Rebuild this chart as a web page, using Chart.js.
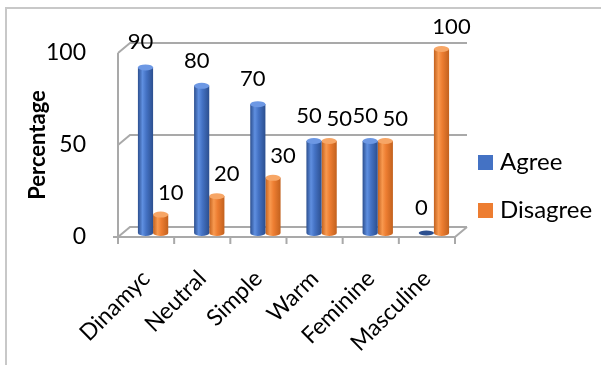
<!DOCTYPE html>
<html>
<head>
<meta charset="utf-8">
<script src="https://cdn.jsdelivr.net/npm/chart.js@4.4.1/dist/chart.umd.min.js"></script>
<style>
  html, body { margin: 0; padding: 0; background: #fff; }
  #wrap { position: relative; width: 601px; height: 365px; overflow: hidden; }
  #frame { position: absolute; left: 5px; top: 7px; right: -10px; bottom: -10px; border: 2px solid #c8c8c8; pointer-events: none; }
</style>
</head>
<body>
<div id="wrap">
  <canvas id="chart" width="601" height="365"></canvas>
  <div id="frame"></div>
</div>
<script>
const categories = ['Dinamyc', 'Neutral', 'Simple', 'Warm', 'Feminine', 'Masculine'];
const agreeValues = [90, 80, 70, 50, 50, 0];
const disagreeValues = [10, 20, 30, 50, 50, 100];
const seriesNames = ['Agree', 'Disagree'];
const yTickValues = [0, 50, 100];

const FONT = 'Lato, "Open Sans", sans-serif';
const BACK = { x: 12, y: -10 };   // depth of the back wall
const MID = { x: 7, y: -4 };      // where the bars stand
const gridColor = '#a9a9a9';

const palette = [
    { base: '#4472c4', dark: '#2c4f8f', light: '#5f8fe0', top: '#6d98e4', labelDx: -5, labelDy: -25 },
    { base: '#ed7d31', dark: '#c2611e', light: '#f8994f', top: '#f7a666', labelDx: 10, labelDy: -22 }
];

// back wall, floor and axis lines
const wallsPlugin = {
    id: 'walls',
    beforeDatasetsDraw(chart) {
        const { ctx, chartArea: a, scales: { y } } = chart;
        ctx.save();
        ctx.strokeStyle = gridColor;
        ctx.lineWidth = 2;
        ctx.beginPath();
        yTickValues.forEach(v => {
            const py = y.getPixelForValue(v);
            ctx.moveTo(a.left, py);
            ctx.lineTo(a.left + BACK.x, py + BACK.y);
            ctx.lineTo(a.right + BACK.x, py + BACK.y);
        });
        // left axis
        ctx.moveTo(a.left, y.getPixelForValue(100));
        ctx.lineTo(a.left, a.bottom);
        // floor front edge and right side
        ctx.moveTo(a.left - 5, a.bottom);
        ctx.lineTo(a.right, a.bottom);
        ctx.lineTo(a.right + BACK.x, a.bottom + BACK.y);
        // category tick marks
        const step = (a.right - a.left) / categories.length;
        for (let i = 0; i <= categories.length; i++) {
            const px = a.left + i * step;
            ctx.moveTo(px, a.bottom);
            ctx.lineTo(px, a.bottom + 7);
        }
        ctx.stroke();
        ctx.restore();
    }
};

function drawCylinder(ctx, cx, top, base, w, col) {
    const rx = w / 2, ry = 3;
    if (Math.abs(base - top) < 1) {
        ctx.fillStyle = col.dark;
        ctx.beginPath();
        ctx.ellipse(cx, base, rx, ry * 0.8, 0, 0, Math.PI * 2);
        ctx.fill();
        return;
    }
    const g = ctx.createLinearGradient(cx - rx, 0, cx + rx, 0);
    g.addColorStop(0, col.dark);
    g.addColorStop(0.3, col.light);
    g.addColorStop(0.55, col.base);
    g.addColorStop(1, col.dark);
    ctx.fillStyle = g;
    ctx.beginPath();
    ctx.moveTo(cx - rx, top);
    ctx.lineTo(cx - rx, base);
    ctx.ellipse(cx, base, rx, ry, 0, Math.PI, 0, true);
    ctx.lineTo(cx + rx, top);
    ctx.closePath();
    ctx.fill();
    ctx.fillStyle = col.top;
    ctx.beginPath();
    ctx.ellipse(cx, top, rx, ry, 0, 0, Math.PI * 2);
    ctx.fill();
}

// cylinders instead of flat bars
const cylinderPlugin = {
    id: 'cylinders',
    beforeDatasetDraw(chart, args) {
        const { ctx } = chart;
        const col = palette[args.index];
        ctx.save();
        args.meta.data.forEach(bar => {
            const p = bar.getProps(['x', 'y', 'base', 'width'], true);
            drawCylinder(ctx, p.x + MID.x, p.y + MID.y, p.base + MID.y, p.width, col);
        });
        ctx.restore();
        return false;
    },
    afterDatasetsDraw(chart) {
        const { ctx } = chart;
        ctx.save();
        ctx.font = '22px ' + FONT;
        ctx.fillStyle = '#000';
        ctx.textAlign = 'center';
        ctx.textBaseline = 'middle';
        chart.data.datasets.forEach((ds, di) => {
            const col = palette[di];
            chart.getDatasetMeta(di).data.forEach((bar, i) => {
                const p = bar.getProps(['x', 'y'], true);
                ctx.fillText(ds.data[i], p.x + MID.x + col.labelDx, p.y + MID.y + col.labelDy);
            });
        });
        ctx.restore();
    }
};

// legend on the right
const legendPlugin = {
    id: 'sideLegend',
    afterDraw(chart) {
        const { ctx, chartArea: a } = chart;
        ctx.save();
        ctx.font = '24px ' + FONT;
        ctx.textBaseline = 'middle';
        chart.data.datasets.forEach((ds, i) => {
            const cy = 162 + i * 48;
            const bx = a.right + 23;
            ctx.fillStyle = ds.backgroundColor;
            ctx.fillRect(bx, cy - 7, 15, 15);
            ctx.fillStyle = '#000';
            ctx.fillText(ds.label, bx + 22, cy);
        });
        ctx.restore();
    }
};

new Chart(document.getElementById('chart'), {
    type: 'bar',
    data: {
        labels: categories,
        datasets: [
            { label: seriesNames[0], data: agreeValues, backgroundColor: palette[0].base },
            { label: seriesNames[1], data: disagreeValues, backgroundColor: palette[1].base }
        ]
    },
    options: {
        responsive: false,
        animation: false,
        devicePixelRatio: 1,
        layout: { padding: { top: 53, right: 146, left: 0, bottom: 0 } },
        datasets: { bar: { categoryPercentage: 0.54, barPercentage: 1 } },
        plugins: { legend: { display: false }, tooltip: { enabled: false } },
        scales: {
            x: {
                grid: { display: false },
                border: { display: false },
                ticks: {
                    color: '#000',
                    font: { family: FONT, size: 23 },
                    minRotation: 45,
                    maxRotation: 45,
                    padding: 20
                },
                afterFit(s) { s.height = 128; }
            },
            y: {
                min: 0,
                max: 100,
                grid: { display: false },
                border: { display: false },
                afterBuildTicks(s) { s.ticks = yTickValues.map(v => ({ value: v })); },
                ticks: {
                    color: '#000',
                    font: { family: FONT, size: 23 },
                    padding: 24
                },
                title: {
                    display: true,
                    text: 'Percentage',
                    color: '#000',
                    font: { family: FONT, size: 22, weight: 'bold' },
                    padding: { top: 25, bottom: 0 }
                },
                afterFit(s) { s.width = 118; }
            }
        }
    },
    plugins: [wallsPlugin, cylinderPlugin, legendPlugin]
});
</script>
</body>
</html>
